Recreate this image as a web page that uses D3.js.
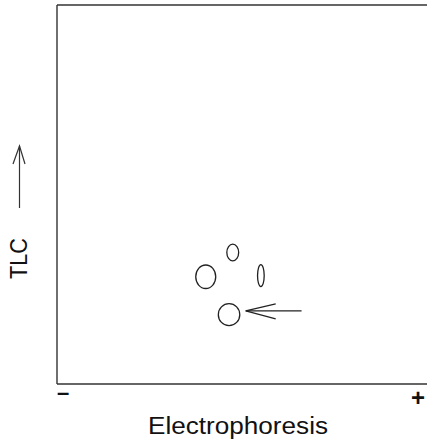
<!DOCTYPE html>
<html lang="en">
<head>
  <meta charset="UTF-8">
  <title>TLC / Electrophoresis</title>
  <style>
    body { margin: 0; background: #fff; }
    text { font-family: "Liberation Sans", Arial, sans-serif; fill: #111; }
  </style>
</head>
<body>
  <div id="main"></div>
  <script src="https://cdn.jsdelivr.net/npm/d3@7"></script>
  <script>
    // spot data (arbitrary units, 0-100 on both axes)
    let spotNames = ['a', 'b', 'c', 'd']
    let spotX = [47.5, 40.2, 55.1, 46.5]   // electrophoresis position
    let spotY = [34.7, 28.3, 28.6, 18.3]   // TLC position
    let spotW = [1.6, 2.7, 0.9, 2.9]       // half width
    let spotH = [2.2, 3.1, 2.9, 2.9]       // half height
    // arrow pointing at the marked spot
    let pointerFrom = [66.1, 19.3]
    let pointerTo = [51.0, 19.3]

    const W = 427, H = 442
    const mLeft = 57, mTop = 5, mRight = 427, mBottom = 384

    let svg = d3.select('#main').append('svg')
      .attr('width', W)
      .attr('height', H)

    let x = d3.scaleLinear().domain([0, 100]).range([mLeft, mRight])
    let y = d3.scaleLinear().domain([0, 100]).range([mBottom, mTop])

    // frame: left, top, bottom (right side is open, runs off the page)
    function drawFrame() {
      let frame = svg.append('g')
        .attr('fill', 'none')
        .attr('stroke', '#333')
        .attr('stroke-width', 1.4)
      frame.append('line')
        .attr('x1', x(0)).attr('y1', y(0)).attr('x2', x(0)).attr('y2', y(100))
      frame.append('line')
        .attr('x1', x(0)).attr('y1', y(100)).attr('x2', x(100)).attr('y2', y(100))
      frame.append('line')
        .attr('x1', x(0)).attr('y1', y(0)).attr('x2', x(100)).attr('y2', y(0))
    }

    function drawSpots() {
      svg.append('g').selectAll('ellipse')
        .data(spotNames)
        .join('ellipse')
        .attr('cx', (d, i) => x(spotX[i]))
        .attr('cy', (d, i) => y(spotY[i]))
        .attr('rx', (d, i) => x(spotW[i]) - x(0))
        .attr('ry', (d, i) => y(0) - y(spotH[i]))
        .attr('fill', 'none')
        .attr('stroke', '#222')
        .attr('stroke-width', 1.3)
    }

    function drawPointer() {
      let g = svg.append('g')
        .attr('fill', 'none')
        .attr('stroke', '#222')
        .attr('stroke-width', 1.2)
      let tx = x(pointerTo[0]), ty = y(pointerTo[1])
      g.append('line')
        .attr('x1', x(pointerFrom[0])).attr('y1', y(pointerFrom[1]))
        .attr('x2', tx).attr('y2', ty)
      g.append('path')
        .attr('d', `M${tx + 30},${ty - 7} L${tx},${ty} L${tx + 30},${ty + 8}`)
    }

    function drawLabels() {
      // x axis label and polarity signs
      svg.append('text')
        .attr('x', 148).attr('y', 434)
        .attr('font-size', 23)
        .attr('textLength', 180)
        .attr('lengthAdjust', 'spacingAndGlyphs')
        .text('Electrophoresis')
      svg.append('text')
        .attr('x', x(0)).attr('y', 400)
        .attr('font-size', 22).attr('font-weight', 'bold')
        .text('\u2013')
      svg.append('text')
        .attr('x', 425).attr('y', 406)
        .attr('text-anchor', 'end')
        .attr('font-size', 24).attr('font-weight', 'bold')
        .text('+')

      // y axis label, rotated
      svg.append('text')
        .attr('transform', 'translate(27,279) rotate(-90)')
        .attr('font-size', 23)
        .attr('textLength', 41)
        .attr('lengthAdjust', 'spacingAndGlyphs')
        .text('TLC')

      // upward arrow beside TLC
      let a = svg.append('g')
        .attr('fill', 'none')
        .attr('stroke', '#333')
        .attr('stroke-width', 1.2)
      a.append('line').attr('x1', 19.5).attr('y1', 208).attr('x2', 19.5).attr('y2', 146)
      a.append('path').attr('d', 'M13,164 L19.5,146 L25,164')
    }

    function main() {
      drawFrame()
      drawSpots()
      drawPointer()
      drawLabels()
    }

    main()
  </script>
</body>
</html>
